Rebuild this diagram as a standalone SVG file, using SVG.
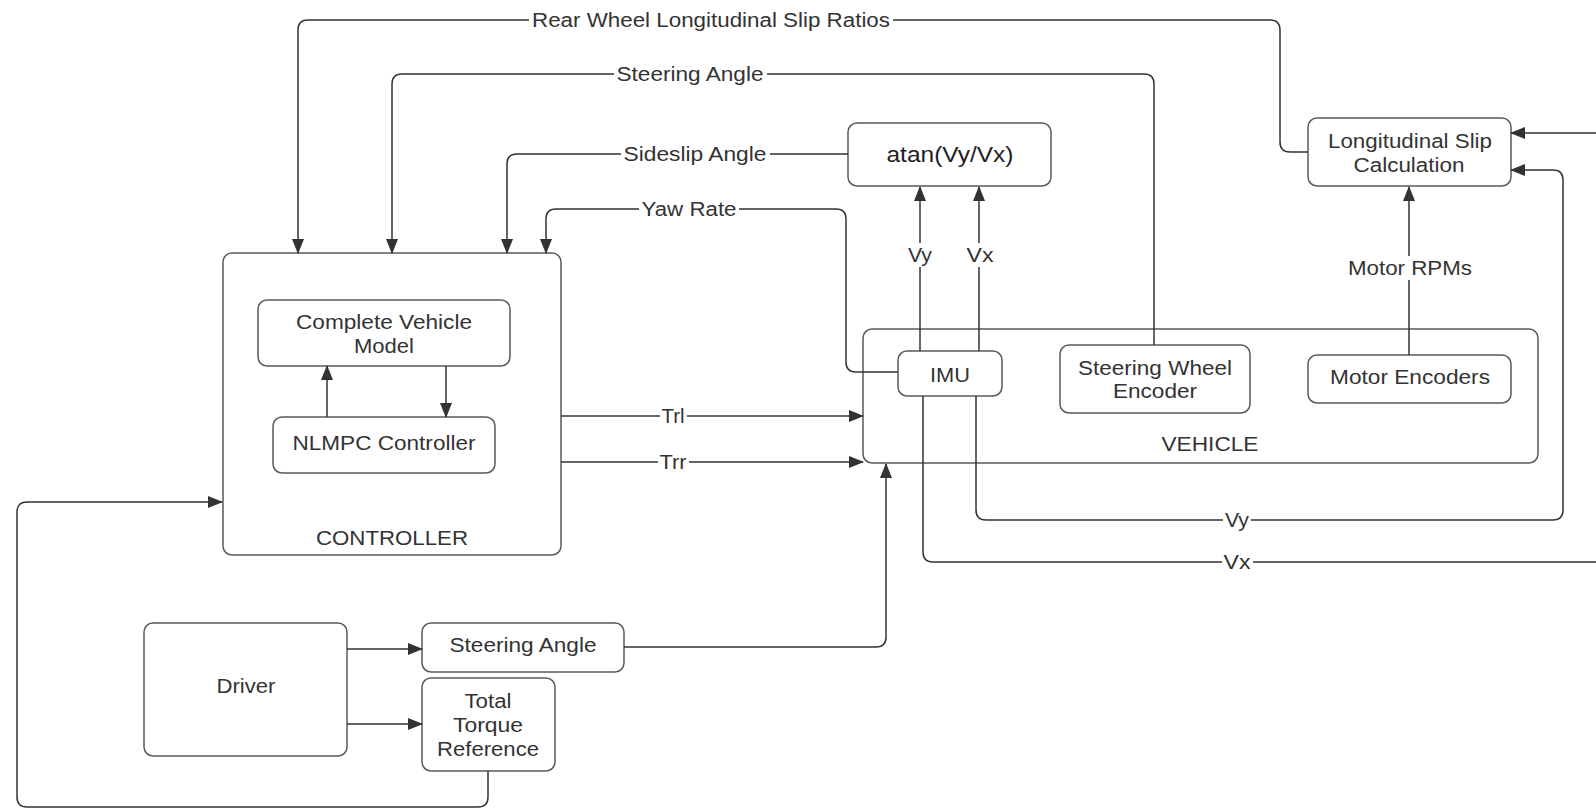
<svg xmlns="http://www.w3.org/2000/svg" width="1596" height="809" viewBox="0 0 1596 809">
<style>
.box{fill:#fff;stroke:#5a5a5a;stroke-width:1.5}
.c{fill:none;stroke:#333;stroke-width:1.5}
.t{font-family:"Liberation Sans",Arial,sans-serif;font-size:20px;fill:#333;text-anchor:middle}
.bg{fill:#fff}
</style>
<defs>
<marker id="ah" markerUnits="userSpaceOnUse" markerWidth="15" markerHeight="13" refX="14" refY="6" orient="auto">
<path d="M0,0 L15,6 L0,12 z" fill="#333"/>
</marker>
</defs>

<g id="controller">
<rect class="box" x="223" y="253" width="338" height="302" rx="9"/>
<text class="t" x="392" y="545" textLength="152" lengthAdjust="spacingAndGlyphs">CONTROLLER</text>
</g>
<g id="complete-vehicle-model">
<rect class="box" x="258" y="300" width="252" height="66" rx="9"/>
<text class="t" x="384" y="329" textLength="176" lengthAdjust="spacingAndGlyphs">Complete Vehicle</text>
<text class="t" x="384" y="353" textLength="60" lengthAdjust="spacingAndGlyphs">Model</text>
</g>
<g id="nlmpc-controller">
<rect class="box" x="273" y="417" width="222" height="56" rx="9"/>
<text class="t" x="384" y="450" textLength="183" lengthAdjust="spacingAndGlyphs">NLMPC Controller</text>
</g>
<g id="atan">
<rect class="box" x="848" y="123" width="203" height="63" rx="9"/>
<text class="t" x="950" y="162" style="font-size:22px;fill:#222" textLength="127" lengthAdjust="spacingAndGlyphs">atan(Vy/Vx)</text>
</g>
<g id="longitudinal-slip">
<rect class="box" x="1308" y="118" width="203" height="68" rx="9"/>
<text class="t" x="1410" y="148" textLength="164" lengthAdjust="spacingAndGlyphs">Longitudinal Slip</text>
<text class="t" x="1409" y="172" textLength="111" lengthAdjust="spacingAndGlyphs">Calculation</text>
</g>
<g id="vehicle">
<rect class="box" x="863" y="329" width="675" height="134" rx="9"/>
<text class="t" x="1210" y="451" textLength="97" lengthAdjust="spacingAndGlyphs">VEHICLE</text>
</g>
<g id="imu">
<rect class="box" x="898" y="351" width="104" height="45" rx="9"/>
<text class="t" x="950" y="382" textLength="40" lengthAdjust="spacingAndGlyphs">IMU</text>
</g>
<g id="steering-wheel-encoder">
<rect class="box" x="1060" y="345" width="190" height="68" rx="9"/>
<text class="t" x="1155" y="375" textLength="154" lengthAdjust="spacingAndGlyphs">Steering Wheel</text>
<text class="t" x="1155" y="398" textLength="84" lengthAdjust="spacingAndGlyphs">Encoder</text>
</g>
<g id="motor-encoders">
<rect class="box" x="1308" y="355" width="203" height="48" rx="9"/>
<text class="t" x="1410" y="384" textLength="160" lengthAdjust="spacingAndGlyphs">Motor Encoders</text>
</g>
<g id="driver">
<rect class="box" x="144" y="623" width="203" height="133" rx="9"/>
<text class="t" x="246" y="693" textLength="59" lengthAdjust="spacingAndGlyphs">Driver</text>
</g>
<g id="steering-angle">
<rect class="box" x="422" y="623" width="202" height="49" rx="9"/>
<text class="t" x="523" y="652" textLength="147" lengthAdjust="spacingAndGlyphs">Steering Angle</text>
</g>
<g id="total-torque-reference">
<rect class="box" x="422" y="678" width="133" height="93" rx="9"/>
<text class="t" x="488" y="708" textLength="47" lengthAdjust="spacingAndGlyphs">Total</text>
<text class="t" x="488" y="732" textLength="70" lengthAdjust="spacingAndGlyphs">Torque</text>
<text class="t" x="488" y="756" textLength="102" lengthAdjust="spacingAndGlyphs">Reference</text>
</g>

<g id="connectors">
<path class="c" d="M1308,152 H1290 Q1280,152 1280,142 V30 Q1280,20 1270,20 H308 Q298,20 298,30 V253" marker-end="url(#ah)"/>
<path class="c" d="M1154,345 V84 Q1154,74 1144,74 H402 Q392,74 392,84 V253" marker-end="url(#ah)"/>
<path class="c" d="M848,154 H517 Q507,154 507,164 V253" marker-end="url(#ah)"/>
<path class="c" d="M898,372 H856 Q846,372 846,362 V219 Q846,209 836,209 H556 Q546,209 546,219 V253" marker-end="url(#ah)"/>
<path class="c" d="M920,351 V187" marker-end="url(#ah)"/>
<path class="c" d="M979,351 V187" marker-end="url(#ah)"/>
<path class="c" d="M976,396 V510 Q976,520 986,520 H1553 Q1563,520 1563,510 V180 Q1563,170 1553,170 H1511" marker-end="url(#ah)"/>
<path class="c" d="M923,396 V552 Q923,562 933,562 H1596"/>
<path class="c" d="M1596,133 H1511" marker-end="url(#ah)"/>
<path class="c" d="M1409,355 V187" marker-end="url(#ah)"/>
<path class="c" d="M561,416 H863" marker-end="url(#ah)"/>
<path class="c" d="M561,462 H863" marker-end="url(#ah)"/>
<path class="c" d="M624,647 H876 Q886,647 886,637 V464" marker-end="url(#ah)"/>
<path class="c" d="M347,649 H422" marker-end="url(#ah)"/>
<path class="c" d="M347,724 H422" marker-end="url(#ah)"/>
<path class="c" d="M488,771 V797 Q488,807 478,807 H27 Q17,807 17,797 V512 Q17,502 27,502 H222" marker-end="url(#ah)"/>
<path class="c" d="M327,417 V366" marker-end="url(#ah)"/>
<path class="c" d="M446,366 V417" marker-end="url(#ah)"/>

<rect class="bg" x="529" y="10" width="364" height="20"/>
<text class="t" x="711" y="27" textLength="358" lengthAdjust="spacingAndGlyphs">Rear Wheel Longitudinal Slip Ratios</text>
<rect class="bg" x="614" y="64" width="153" height="20"/>
<text class="t" x="690" y="81" textLength="147" lengthAdjust="spacingAndGlyphs">Steering Angle</text>
<rect class="bg" x="621" y="144" width="149" height="20"/>
<text class="t" x="695" y="161" textLength="143" lengthAdjust="spacingAndGlyphs">Sideslip Angle</text>
<rect class="bg" x="639" y="199" width="100" height="20"/>
<text class="t" x="689" y="216" textLength="95" lengthAdjust="spacingAndGlyphs">Yaw Rate</text>
<rect class="bg" x="906" y="243" width="28" height="24"/>
<text class="t" x="920" y="262" textLength="24" lengthAdjust="spacingAndGlyphs">Vy</text>
<rect class="bg" x="964" y="243" width="31" height="24"/>
<text class="t" x="980" y="262" textLength="27" lengthAdjust="spacingAndGlyphs">Vx</text>
<rect class="bg" x="1346" y="256" width="128" height="24"/>
<text class="t" x="1410" y="275" textLength="124" lengthAdjust="spacingAndGlyphs">Motor RPMs</text>
<rect class="bg" x="660" y="406" width="27" height="20"/>
<text class="t" x="673" y="423" textLength="23" lengthAdjust="spacingAndGlyphs">Trl</text>
<rect class="bg" x="658" y="452" width="31" height="20"/>
<text class="t" x="673" y="469" textLength="27" lengthAdjust="spacingAndGlyphs">Trr</text>
<rect class="bg" x="1223" y="510" width="28" height="22"/>
<text class="t" x="1237" y="527" textLength="24" lengthAdjust="spacingAndGlyphs">Vy</text>
<rect class="bg" x="1222" y="552" width="31" height="20"/>
<text class="t" x="1237" y="569" textLength="27" lengthAdjust="spacingAndGlyphs">Vx</text>
</g>
</svg>
